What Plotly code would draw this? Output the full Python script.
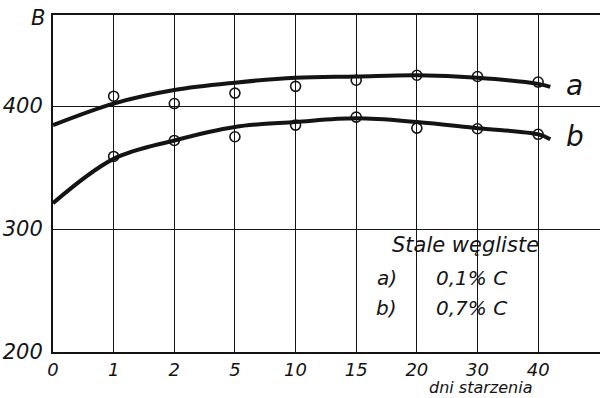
import plotly.graph_objects as go

# category axis: days of aging
days = ["0", "1", "2", "5", "10", "15", "20", "30", "40"]
pos = list(range(len(days)))

# measured points (open circles)
pts_x = [1, 2, 3, 4, 5, 6, 7, 8]
meas_a = [408, 402, 410.5, 416, 421, 425, 424, 419.5]
meas_b = [359, 372, 375, 384.5, 391, 382, 381.5, 377]

# fitted curves (thick lines)
curve_x = [0, 1, 2, 3, 4, 5, 6, 7, 8, 8.2]
curve_a = [384.5, 402, 413, 419, 423, 424, 425, 423, 418, 415.5]
curve_b = [321, 357, 372, 383, 387, 390, 387, 382, 377, 373]

yticks = [200, 300, 400]

INK = "#141414"
FONT = "DejaVu Sans"

fig = go.Figure()
for cy in (curve_a, curve_b):
    fig.add_trace(go.Scatter(x=curve_x, y=cy, mode="lines",
                             line=dict(color=INK, width=4, shape="spline", smoothing=1.0),
                             hoverinfo="skip", showlegend=False))
for my in (meas_a, meas_b):
    fig.add_trace(go.Scatter(x=pts_x, y=my, mode="markers",
                             marker=dict(symbol="circle-open", size=10, color=INK,
                                         line=dict(width=1.6, color=INK)),
                             showlegend=False))

fig.update_layout(
    width=600, height=398,
    margin=dict(l=53, r=0, t=15, b=46),
    paper_bgcolor="white", plot_bgcolor="white",
    font=dict(family=FONT, color=INK),
)
fig.update_xaxes(range=[0, 9.02], tickmode="array", tickvals=pos, ticktext=days,
                 showgrid=True, gridcolor=INK, gridwidth=1.3,
                 showline=True, linecolor=INK, linewidth=2, mirror=True,
                 ticks="", zeroline=False,
                 tickfont=dict(size=18, style="italic", family=FONT, color=INK))
fig.update_yaxes(range=[200, 474], tickmode="array", tickvals=yticks,
                 ticktext=[str(v) for v in yticks],
                 showgrid=True, gridcolor=INK, gridwidth=1.3,
                 showline=True, linecolor=INK, linewidth=2, mirror=False,
                 ticks="", zeroline=False, ticklabelstandoff=4,
                 tickfont=dict(size=21, style="italic", family=FONT, color=INK))

def note(x, y, text, size, xref="x", yref="y"):
    fig.add_annotation(xref=xref, yref=yref, x=x, y=y, text=text, showarrow=False,
                       xanchor="center", yanchor="middle", borderpad=0,
                       font=dict(size=size, style="italic", family=FONT, color=INK))

# axis labels
note(-0.027, 0.99, "B", 21, xref="paper", yref="paper")
note(7.05, -0.104, "dni starzenia", 16, yref="paper")
# curve labels
note(8.6, 417, "a", 28)
note(8.6, 375, "b", 28)
# legend text block
note(6.8, 287, "Stale węgliste", 21)
note(5.5, 260, "a)", 20)
note(6.9, 260, "0,1% C", 20)
note(5.5, 236, "b)", 20)
note(6.9, 236, "0,7% C", 20)

fig.write_html("out.html")
